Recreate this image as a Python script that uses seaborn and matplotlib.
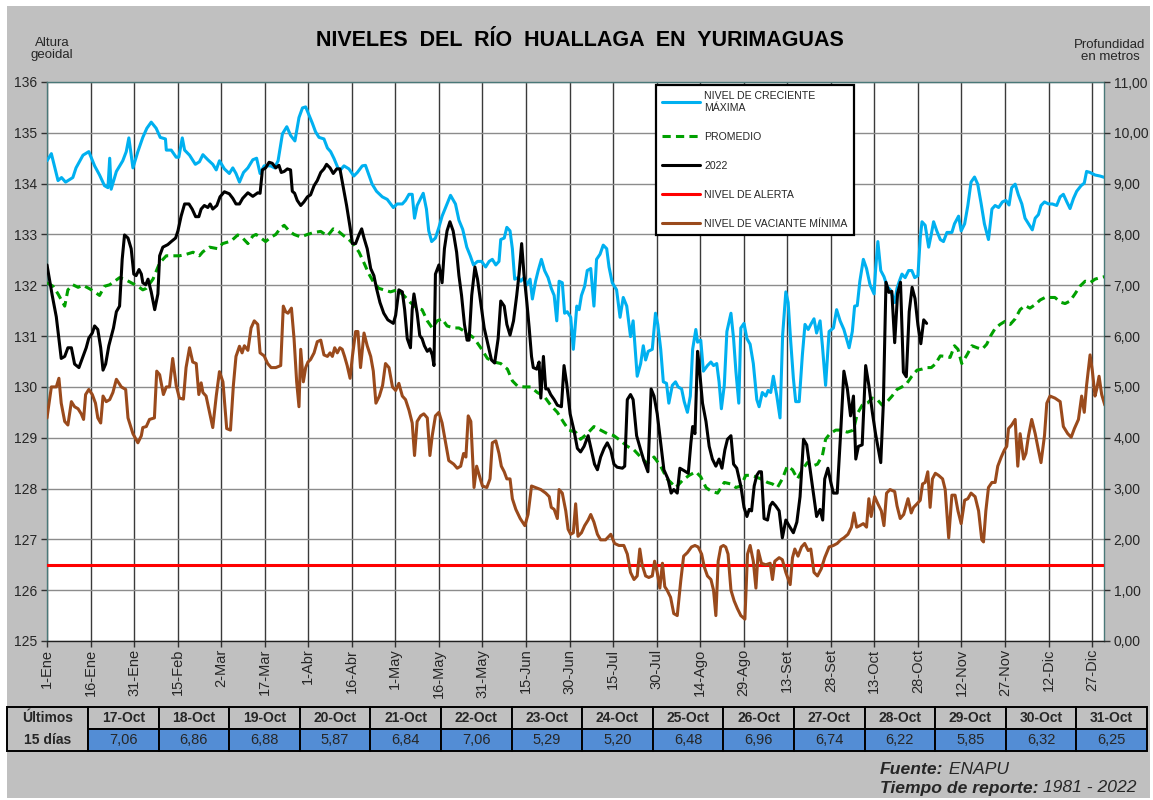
import numpy as np
import matplotlib
matplotlib.use("Agg")
import matplotlib.pyplot as plt
import seaborn as sns
from matplotlib.patches import Rectangle

# ---------------- DATA ----------------
TICK_LABELS = ["1-Ene", "16-Ene", "31-Ene", "15-Feb", "2-Mar", "17-Mar", "1-Abr", "16-Abr",
               "1-May", "16-May", "31-May", "15-Jun", "30-Jun", "15-Jul", "30-Jul", "14-Ago",
               "29-Ago", "13-Set", "28-Set", "13-Oct", "28-Oct", "12-Nov", "27-Nov", "12-Dic", "27-Dic"]

ALERTA = 126.5

MAX_DAYS = [0, 1.5, 3.8, 5, 6.4, 8.9, 10, 12.4, 14.4, 16.4,
            18.1, 19.8, 21, 21.6, 22.1, 23.9, 26.1, 27.3, 28.2, 29.6,
            31.3, 33, 34.4, 35.9, 37.6, 39, 40.8, 41.1, 42.8, 44.5,
            45.4, 46.6, 47.4, 49.1, 51.1, 52.5, 53.7, 55.4, 57.1, 58.3,
            59.4, 61.1, 62.8, 64, 65.1, 66.3, 67.7, 69.2, 70.9, 72.2,
            73.4, 74.8, 77, 78.4, 79.6, 81.1, 82.6, 83.9, 85.4, 86.8,
            88, 89.1, 90.3, 91.4, 92.5, 93.7, 95.4, 96.6, 97.7, 98.9,
            100.2, 101.1, 102.3, 104, 105.7, 106.9, 108.6, 109.7, 110.9, 112,
            113.5, 115.5, 117.2, 119.3, 120.6, 122.4, 123.5, 124.7, 125.8, 126.6,
            127.5, 128.7, 129.6, 130.7, 131.5, 132.5, 133.8, 135, 136.1, 137.8,
            139, 140.7, 141.9, 143.2, 144.6, 145.8, 146.9, 148.3, 149.7, 151.1,
            152.3, 153.4, 154.6, 155.7, 156.3, 157.5, 158.4, 159.5, 160.3, 161.1,
            162.3, 163.2, 164.3, 165.3, 166.4, 167.2, 168.3, 169.2, 170.3, 171.4,
            172.6, 173.7, 174.7, 175.6, 176.4, 177.5, 178.3, 179.2, 180.4, 181.3,
            182.5, 183.3, 184.1, 185.2, 186.1, 187.3, 188.4, 189.3, 190.5, 191.6,
            192.8, 193.6, 194.7, 196.2, 197.4, 198.5, 199.7, 201, 201.9, 203.3,
            204.5, 205.4, 206.2, 207.1, 208.5, 209.6, 210.4, 211.4, 212.3, 213.4,
            214.2, 215.4, 216.5, 217.4, 218.6, 219.5, 220.6, 221.6, 222.4, 223.5,
            224.1, 225.2, 226.1, 227.5, 228.7, 229.6, 230.7, 231.5, 232.3, 233.3,
            234.2, 235.6, 236.5, 237.3, 238.3, 239, 240.1, 241.1, 242.2, 243.3,
            244.5, 245.3, 246.4, 247.6, 248.4, 249.3, 250.2, 251.4, 252.5, 253.4,
            254.5, 255.3, 256.2, 257.1, 257.9, 259.1, 260.2, 261.1, 262.2, 263.1,
            264.2, 265.1, 266.3, 267.1, 268.2, 269.4, 270.9, 272, 273.2, 274.5,
            276.3, 277.4, 278.2, 279.1, 280, 281.2, 282.3, 283.5, 284.9, 285.4,
            286.2, 287.2, 288.3, 289.4, 290.6, 292, 292.8, 293.6, 294.5, 295.6,
            296.8, 297.9, 298.9, 300, 300.8, 301.4, 302.5, 303.7, 304.6, 305.4,
            306.5, 307.7, 308.8, 310, 311.7, 312.6, 314, 314.9, 316.1, 317.2,
            318.3, 319.5, 320.6, 321.8, 322.9, 324.3, 325.5, 326.6, 327.8, 329.1,
            330.3, 331.4, 332.3, 333.5, 334.6, 335.8, 336.9, 338.1, 339.4, 340.4,
            341.5, 342.4, 343.6, 345, 346.3, 347.8, 349, 350.1, 351.3, 352.4,
            353.6, 354.7, 356.2, 357.3, 358.1, 359.3, 361, 362.7, 364.4]
MAX_VALS = [134.45, 134.59, 134.06, 134.12, 134.03, 134.12, 134.31, 134.56, 134.63, 134.35,
            134.17, 133.96, 133.92, 134.50, 133.89, 134.24, 134.45, 134.63, 134.90, 134.31,
            134.63, 134.91, 135.09, 135.21, 135.09, 134.91, 134.88, 134.66, 134.66, 134.52,
            134.52, 134.90, 134.66, 134.56, 134.38, 134.43, 134.57, 134.47, 134.38, 134.27,
            134.45, 134.29, 134.20, 134.31, 134.20, 134.03, 134.22, 134.31, 134.47, 134.50,
            134.20, 134.35, 134.35, 134.31, 134.45, 134.98, 135.12, 134.95, 134.84, 135.30,
            135.49, 135.51, 135.34, 135.19, 135.02, 134.91, 134.88, 134.70, 134.63, 134.49,
            134.31, 134.27, 134.35, 134.29, 134.15, 134.22, 134.35, 134.36, 134.17, 133.99,
            133.85, 133.74, 133.69, 133.53, 133.60, 133.60, 133.67, 133.79, 133.79, 133.32,
            133.57, 133.71, 133.81, 133.50, 133.07, 132.86, 132.93, 133.14, 133.36, 133.60,
            133.77, 133.60, 133.28, 133.10, 132.75, 132.58, 132.40, 132.47, 132.47, 132.36,
            132.47, 132.51, 132.40, 132.47, 132.90, 132.93, 133.14, 133.07, 132.72, 132.12,
            132.15, 132.08, 132.15, 132.01, 132.12, 131.73, 132.08, 132.29, 132.51, 132.29,
            132.15, 131.94, 131.80, 131.30, 132.08, 132.05, 131.45, 131.48, 131.37, 130.74,
            131.59, 131.52, 131.80, 131.98, 132.29, 132.33, 131.59, 132.51, 132.61, 132.79,
            132.72, 132.36, 132.05, 131.91, 131.37, 131.76, 131.59, 130.99, 131.30, 130.21,
            130.46, 130.81, 130.53, 130.70, 130.74, 131.45, 131.23, 130.74, 130.10, 130.07,
            129.68, 130.03, 130.10, 130.00, 129.96, 129.71, 129.50, 129.82, 130.74, 131.13,
            130.88, 130.92, 130.31, 130.42, 130.49, 130.42, 130.46, 130.10, 129.57, 130.03,
            131.09, 131.45, 130.95, 130.31, 129.68, 131.16, 131.25, 130.95, 130.84, 130.46,
            129.75, 129.61, 129.89, 129.82, 129.93, 129.89, 130.21, 129.82, 129.39, 131.02,
            131.87, 131.66, 130.88, 130.17, 129.71, 129.71, 130.63, 131.23, 131.13, 131.23,
            131.34, 131.06, 131.30, 130.81, 130.03, 131.09, 131.16, 131.52, 131.30, 131.13,
            130.77, 131.09, 131.59, 131.60, 132.08, 132.51, 132.33, 132.01, 131.83, 132.29,
            132.86, 132.29, 132.17, 131.98, 131.90, 131.66, 131.94, 132.08, 132.22, 132.15,
            132.29, 132.29, 132.15, 132.19, 132.93, 133.25, 133.18, 132.75, 133.00, 133.25,
            133.07, 132.90, 132.86, 133.04, 133.04, 133.21, 133.36, 133.07, 133.21, 133.57,
            134.03, 134.13, 133.99, 133.60, 133.21, 132.90, 133.50, 133.57, 133.53, 133.64,
            133.67, 133.58, 133.92, 133.99, 133.78, 133.60, 133.32, 133.21, 133.09, 133.32,
            133.39, 133.57, 133.64, 133.60, 133.60, 133.57, 133.74, 133.79, 133.64, 133.51,
            133.71, 133.85, 133.96, 134.01, 134.24, 134.22, 134.17, 134.15, 134.12]

Y2022_DAYS = [0, 1.8, 3.2, 4.9, 6.1, 7.2, 8.4, 9.5, 11, 12.4,
              13.5, 14.4, 15.6, 16.4, 17.5, 18.5, 19.3, 20.2, 21.3, 22.9,
              23.9, 25, 25.9, 26.7, 27.9, 29, 29.9, 30.7, 31.7, 32.5,
              33, 34, 34.8, 35.9, 37.1, 38.2, 38.8, 39.9, 41.6, 42.8,
              44.3, 45.1, 46.2, 47.4, 48.9, 50, 51.2, 52.3, 53.1, 54.2,
              55.4, 56.2, 57.1, 58.5, 59.6, 61.1, 62.8, 64, 65.1, 66.3,
              67.4, 69.2, 70.9, 72.6, 73.4, 74.2, 75.3, 76.5, 77.6, 78.8,
              79.9, 80.7, 81.7, 82.8, 83.9, 84.5, 85.3, 86.2, 87.4, 88.5,
              89.7, 90.8, 92, 93.1, 94.3, 95.4, 96.3, 97.5, 98.6, 99.8,
              100.9, 102.1, 103.2, 104.4, 105.2, 106.3, 107.5, 108.4, 109.2, 110.3,
              111.5, 112.6, 113.5, 114.7, 116, 117.4, 119.3, 120.1, 121.2, 122.4,
              123.2, 124.1, 125.2, 125.8, 126.4, 127.5, 128.4, 129.2, 130, 131,
              131.9, 132.7, 133.3, 133.8, 135, 136.1, 136.9, 137.8, 138.8, 139.9,
              141.1, 141.9, 142.8, 143.8, 144.7, 145.4, 146.3, 147.4, 148.3, 149.4,
              150.6, 151.7, 153.1, 154.2, 155.4, 156.3, 157.5, 158.4, 159.5, 160.7,
              161.8, 162.6, 163.5, 164.3, 165.3, 166.1, 166.9, 167.5, 168.7, 169.5,
              170.1, 171, 171.8, 172.6, 173.5, 174.7, 175.8, 177.2, 178.1, 179,
              180.2, 181.5, 182.7, 183.8, 185, 186.4, 187.5, 188.6, 189.6, 190.7,
              191.9, 193, 194.2, 195.3, 196.4, 198.2, 199, 199.9, 201, 201.9,
              203.1, 204.5, 205.6, 207, 208.1, 209.1, 210.2, 211.4, 212.5, 213.9,
              215, 215.9, 217.1, 218, 219.5, 220.9, 221.8, 222.4, 223.2, 224.1,
              224.7, 225.8, 227, 228.1, 229.2, 230.4, 231.5, 232.5, 233.5, 234.4,
              235.6, 236.5, 237.6, 239, 240.1, 241.1, 241.9, 242.7, 243.6, 244.5,
              245.3, 246.1, 247, 248.2, 249.1, 249.9, 251, 252.2, 253.3, 254.5,
              255.6, 257.1, 258.3, 259.4, 260.6, 261.7, 262.8, 264, 265.1, 266.3,
              267.2, 267.9, 269, 270, 270.9, 272.2, 273.4, 274.5, 275.7, 276.8,
              277.8, 278.6, 279.5, 280.8, 282, 283.1, 284.3, 285.4, 286.2, 287.2,
              288.1, 289, 290, 291, 292, 293, 294, 295, 296, 297,
              298, 299, 300, 301, 302, 303]
Y2022_VALS = [132.40, 131.80, 131.38, 130.56, 130.60, 130.77, 130.77, 130.45, 130.38, 130.60,
              130.77, 130.96, 131.06, 131.20, 131.13, 130.77, 130.33, 130.45, 130.81, 131.16,
              131.48, 131.59, 132.51, 132.99, 132.93, 132.72, 132.22, 132.19, 132.31, 132.22,
              132.05, 132.01, 132.12, 131.87, 131.52, 131.83, 132.58, 132.75, 132.80, 132.86,
              132.93, 133.07, 133.36, 133.60, 133.60, 133.50, 133.35, 133.35, 133.50, 133.57,
              133.53, 133.60, 133.50, 133.57, 133.74, 133.84, 133.80, 133.71, 133.60, 133.60,
              133.71, 133.82, 133.75, 133.82, 133.81, 134.27, 134.31, 134.42, 134.40, 134.31,
              134.36, 134.22, 134.24, 134.29, 134.27, 133.85, 133.81, 133.67, 133.57, 133.64,
              133.74, 133.78, 133.96, 134.06, 134.22, 134.29, 134.38, 134.31, 134.20, 134.29,
              134.29, 133.92, 133.57, 133.14, 132.82, 132.82, 133.00, 133.11, 132.93, 132.72,
              132.33, 132.19, 131.94, 131.66, 131.45, 131.32, 131.25, 131.41, 131.91, 131.87,
              131.52, 130.95, 130.77, 131.52, 131.83, 131.45, 131.01, 130.95, 130.81, 130.70,
              130.75, 130.63, 130.42, 132.22, 132.40, 132.05, 132.72, 133.07, 133.25, 133.07,
              132.65, 132.19, 131.80, 131.23, 130.92, 130.92, 131.80, 132.36, 132.12, 131.66,
              131.16, 130.88, 130.53, 130.47, 130.95, 131.69, 131.59, 131.23, 131.02, 131.30,
              131.80, 132.22, 132.82, 132.22, 131.66, 131.16, 130.60, 130.38, 130.35, 130.49,
              129.78, 130.60, 129.96, 129.96, 129.85, 129.75, 129.64, 129.61, 130.42, 130.07,
              129.47, 129.15, 128.79, 128.72, 128.83, 129.04, 128.76, 128.48, 128.37, 128.62,
              128.79, 128.90, 128.76, 128.48, 128.42, 128.40, 128.44, 129.75, 129.85, 129.75,
              129.04, 128.76, 128.55, 128.33, 129.96, 129.82, 129.47, 128.90, 128.37, 128.19,
              127.91, 127.98, 127.91, 128.40, 128.35, 128.30, 128.90, 129.22, 129.08, 130.70,
              130.38, 129.68, 129.32, 128.83, 128.58, 128.44, 128.58, 128.40, 128.76, 128.97,
              129.04, 128.48, 128.40, 128.05, 127.63, 127.45, 127.59, 127.56, 128.05, 128.26,
              128.33, 128.33, 127.41, 127.38, 127.66, 127.73, 127.66, 127.56, 127.03, 127.38,
              127.27, 127.13, 127.34, 127.84, 128.97, 128.86, 128.40, 127.91, 127.45, 127.59,
              127.38, 128.19, 128.40, 128.12, 127.91, 127.91, 129.11, 130.31, 129.96, 129.43,
              129.82, 128.58, 128.83, 128.86, 130.42, 130.03, 129.50, 129.08, 128.83, 128.51,
              129.68, 132.06, 131.86, 131.88, 130.87, 131.84, 132.06, 130.29, 130.20, 131.48,
              131.96, 131.74, 131.22, 130.85, 131.32, 131.25]

AVG_DAYS = [0, 2.1, 3.8, 6.1, 7.2, 8.9, 10.7, 12.4, 14.7, 16.4,
            18.1, 19.8, 21.6, 23.3, 25, 26.7, 29, 31.3, 33, 34.2,
            36.5, 38.8, 41.1, 43.3, 45.6, 48, 50.3, 52.5, 53.7, 56,
            58.8, 60.5, 63.4, 65.7, 67.4, 69.2, 70.9, 72, 73.7, 75.3,
            77, 78.8, 80.5, 81.7, 83.4, 85.1, 87.4, 89.7, 92, 94.3,
            96.6, 98.6, 100.2, 102.3, 104, 105.7, 107.5, 109.2, 110.9, 112.6,
            114.3, 116, 118.3, 120.6, 122.9, 125.2, 127.5, 129.2, 131, 132.7,
            134.4, 136.1, 137.8, 140.1, 141.9, 144.8, 147.1, 149.4, 151.7, 154,
            156.3, 158.6, 160.3, 162, 164.3, 166.6, 168.9, 171.2, 173.5, 175.8,
            178.1, 179.8, 182.1, 183.8, 186.1, 188.4, 190.7, 193, 195.3, 197.6,
            199.9, 202.2, 204.5, 206.8, 209.1, 211.4, 213.6, 214.9, 216.6, 218.9,
            221.2, 223.5, 225.2, 227, 228.7, 231, 233.3, 235.6, 237.3, 239,
            240.7, 242.4, 244.2, 245.9, 248.2, 249.9, 251.6, 253.3, 255, 256.8,
            258.5, 260.2, 261.9, 263.6, 265.4, 267.1, 268.2, 269.7, 271.7, 273.4,
            275.7, 277.8, 279.1, 280.8, 282.6, 284.3, 286, 287.7, 289.4, 291.1,
            292.8, 294.5, 296.2, 297.9, 299.7, 301.4, 303.1, 304.6, 306, 307.7,
            309.4, 311.1, 312.6, 313.8, 315.1, 316.9, 318.6, 320.4, 322.1, 323.7,
            325.2, 326.6, 328.3, 330, 331.8, 333.5, 335.2, 336.9, 338.6, 340.4,
            342.1, 343.8, 345.5, 347.2, 349, 350.7, 352.4, 354.1, 355.8, 357.6,
            359.3, 361, 362.7, 364.4]
AVG_VALS = [132.05, 131.98, 131.83, 131.59, 131.91, 132.01, 131.96, 132.00, 131.93, 131.87,
            131.80, 131.98, 132.01, 132.08, 132.15, 132.12, 132.05, 131.98, 131.91, 131.94,
            132.12, 132.44, 132.58, 132.58, 132.58, 132.61, 132.65, 132.58, 132.66, 132.75,
            132.72, 132.82, 132.87, 132.99, 132.93, 132.82, 132.97, 133.00, 132.93, 132.86,
            132.94, 133.00, 133.13, 133.18, 133.07, 133.00, 132.95, 133.00, 133.04, 133.06,
            132.97, 133.11, 133.07, 132.97, 132.90, 132.80, 132.65, 132.44, 132.22, 132.05,
            131.94, 131.91, 131.87, 131.91, 131.80, 131.66, 131.55, 131.52, 131.30, 131.16,
            131.30, 131.34, 131.20, 131.16, 131.16, 131.06, 130.96, 130.77, 130.56, 130.49,
            130.46, 130.35, 130.12, 130.02, 130.00, 130.00, 129.89, 129.82, 129.64, 129.50,
            129.29, 129.15, 129.11, 128.97, 129.08, 129.22, 129.15, 129.08, 129.04, 128.94,
            128.83, 128.76, 128.62, 128.49, 128.62, 128.44, 128.19, 128.12, 128.02, 128.16,
            128.26, 128.33, 128.23, 128.02, 127.95, 127.91, 128.12, 128.09, 128.02, 128.05,
            128.26, 128.26, 128.23, 128.19, 128.12, 128.09, 128.02, 128.19, 128.44, 128.37,
            128.19, 128.37, 128.51, 128.44, 128.48, 128.65, 128.97, 129.08, 129.15, 129.15,
            129.11, 129.15, 129.47, 129.64, 129.68, 129.78, 129.75, 129.64, 129.71, 129.82,
            129.95, 130.00, 130.07, 130.21, 130.33, 130.35, 130.38, 130.38, 130.45, 130.61,
            130.60, 130.58, 130.81, 130.74, 130.46, 130.63, 130.81, 130.77, 130.74, 130.84,
            131.02, 131.15, 131.23, 131.29, 131.23, 131.34, 131.52, 131.60, 131.55, 131.62,
            131.71, 131.76, 131.76, 131.76, 131.67, 131.64, 131.69, 131.83, 131.98, 132.08,
            132.05, 132.12, 132.15, 132.17]

MIN_DAYS = [0, 1.5, 3.2, 4.1, 4.9, 6.1, 7.2, 8.4, 9.5, 10.7,
            11.8, 12.6, 13.3, 14.4, 15.6, 16.7, 17.5, 18.5, 19.3, 20.4,
            21.6, 22.7, 23.9, 25.6, 27.1, 27.9, 29.6, 31.3, 32.5, 33,
            34.2, 35.3, 37, 37.8, 38.8, 40.1, 41.1, 42.2, 43.3, 44.5,
            45.6, 47, 47.9, 49.1, 50.2, 51.4, 52.3, 53.1, 53.7, 54.8,
            56, 57.1, 58.3, 59.4, 60.6, 61.9, 63.2, 64.2, 65.1, 66.3,
            67.2, 68, 69.2, 70.3, 71.4, 72.6, 73.4, 74.8, 76, 77.2,
            78.8, 80.5, 81.4, 82.2, 83, 84.2, 85.1, 86, 86.8, 87.4,
            88.3, 89.1, 89.9, 90.8, 92, 93.1, 94.3, 95.4, 96.6, 97.5,
            98.3, 99.1, 100, 100.9, 101.7, 102.5, 103.4, 104.4, 105.2, 106.3,
            107.1, 108, 109.2, 110.3, 111.5, 112.4, 113.3, 114.5, 115.6, 116.6,
            117.8, 119, 120.1, 121.2, 122.4, 123.5, 124.7, 125.8, 126.6, 127.5,
            128.7, 129.8, 131, 131.9, 132.7, 133.8, 135, 136.1, 137.3, 138.4,
            140.1, 141.3, 142.5, 143.5, 144.3, 145.1, 146, 147.1, 148, 148.9,
            150, 151.5, 152.6, 153.4, 154.6, 155.7, 156.5, 157.5, 158.4, 159.5,
            160.3, 161.5, 163, 164.6, 165.7, 166.9, 168.3, 170.1, 171.8, 173,
            173.7, 174.7, 175.8, 176.4, 177.5, 178.7, 179.5, 180.4, 181.3, 182.1,
            182.9, 184.1, 185.2, 186.4, 187.3, 188.4, 189.6, 190.7, 192.4, 194.2,
            195.5, 197, 198.7, 199.9, 201, 202.2, 203.3, 204.2, 205, 206.2,
            207.3, 208.5, 209.3, 210.2, 211.1, 212, 212.8, 213.6, 214.8, 215.9,
            217.1, 218.3, 219.3, 220.6, 222, 223.2, 224.3, 225.5, 226.4, 227.5,
            228.7, 229.6, 230.4, 231.2, 232.1, 233, 233.8, 234.6, 235.6, 236.7,
            237.8, 239, 240.4, 241.3, 242.2, 243.3, 244.2, 245, 246.1, 247.6,
            249.1, 249.9, 250.7, 252.2, 253.3, 254.5, 256, 256.8, 257.6, 258.7,
            259.9, 261, 262.2, 263.1, 264.2, 265.4, 266.7, 267.9, 269.4, 270.9,
            272.2, 273.4, 274.5, 275.9, 277.1, 278, 278.9, 280, 281.2, 282.3,
            283.1, 283.9, 285.1, 286.2, 287.4, 288.3, 289.2, 290.4, 292, 292.8,
            293.9, 295.1, 296.6, 297.7, 298.5, 299.7, 300.8, 301.6, 302.5, 303.4,
            304.2, 305, 306, 307.1, 308.5, 309.4, 310.6, 311.7, 312.8, 313.8,
            314.9, 316.1, 317.2, 318.3, 319.7, 320.9, 322, 322.6, 323.4, 324.3,
            325.5, 326.6, 327.5, 328.7, 329.8, 330.6, 331.2, 332.3, 333.5, 334.4,
            335.2, 336.4, 337.2, 338.1, 339.2, 340.4, 341.5, 342.4, 343.6, 344.4,
            345.5, 347.2, 349, 350.1, 351.6, 352.8, 353.9, 355.3, 356.4, 357.3,
            358.1, 359.3, 360.1, 361, 361.6, 362.4, 363.3, 364.4]
MIN_VALS = [129.39, 130.00, 130.00, 130.17, 129.68, 129.32, 129.25, 129.71, 129.61, 129.57,
            129.47, 129.36, 129.85, 129.95, 129.85, 129.68, 129.39, 129.29, 129.82, 129.71,
            129.75, 129.89, 130.15, 130.00, 129.95, 129.39, 129.08, 128.90, 129.04, 129.20,
            129.22, 129.36, 129.39, 130.31, 130.24, 129.85, 130.00, 130.00, 130.56, 130.03,
            129.78, 129.76, 130.38, 130.77, 130.49, 130.46, 129.85, 130.08, 129.89, 129.82,
            129.50, 129.20, 129.82, 130.30, 130.10, 129.18, 129.15, 130.03, 130.60, 130.80,
            130.67, 130.81, 130.72, 131.16, 131.30, 131.23, 130.67, 130.61, 130.46, 130.38,
            130.38, 130.42, 131.59, 131.48, 131.45, 131.55, 130.95, 130.10, 129.61, 130.74,
            130.10, 130.38, 130.49, 130.54, 130.67, 130.89, 130.92, 130.63, 130.60, 130.67,
            130.60, 130.77, 130.67, 130.77, 130.74, 130.60, 130.42, 130.17, 130.60, 131.09,
            131.09, 130.38, 131.06, 130.81, 130.60, 130.31, 129.68, 129.82, 130.03, 130.46,
            130.38, 130.00, 129.93, 130.07, 129.82, 129.75, 129.54, 129.29, 128.65, 129.32,
            129.43, 129.47, 129.39, 128.65, 129.04, 129.43, 129.50, 129.29, 128.90, 128.55,
            128.48, 128.40, 128.44, 128.69, 128.62, 129.43, 129.32, 128.02, 128.44, 128.26,
            128.05, 128.02, 128.19, 128.90, 128.94, 128.69, 128.44, 128.33, 128.19, 128.19,
            127.80, 127.59, 127.41, 127.27, 127.49, 128.05, 128.02, 127.98, 127.91, 127.84,
            127.63, 127.59, 127.41, 127.98, 127.91, 127.56, 127.20, 127.10, 127.13, 127.70,
            127.06, 127.13, 127.27, 127.38, 127.49, 127.34, 127.10, 126.99, 126.99, 127.10,
            126.92, 126.88, 126.88, 126.71, 126.35, 126.21, 126.28, 126.81, 126.50, 126.28,
            126.25, 126.28, 126.57, 126.35, 126.04, 126.53, 126.07, 126.00, 125.86, 125.54,
            125.50, 126.18, 126.67, 126.74, 126.85, 126.88, 126.85, 126.71, 126.46, 126.28,
            126.21, 126.00, 125.50, 126.57, 126.85, 126.88, 126.85, 126.71, 126.00, 125.79,
            125.64, 125.50, 125.43, 126.71, 126.88, 126.57, 126.04, 126.78, 126.53, 126.50,
            126.53, 126.21, 126.57, 126.64, 126.60, 126.35, 126.11, 126.64, 126.81, 126.67,
            126.85, 126.92, 126.78, 126.81, 126.35, 126.28, 126.42, 126.64, 126.85, 126.88,
            126.92, 126.99, 127.03, 127.10, 127.24, 127.52, 127.24, 127.27, 127.31, 127.24,
            127.80, 127.45, 127.84, 127.70, 127.56, 127.27, 127.91, 127.98, 127.94, 127.66,
            127.41, 127.49, 127.80, 127.52, 127.63, 127.70, 127.77, 128.09, 128.12, 128.33,
            127.63, 128.19, 128.30, 128.26, 128.19, 127.98, 127.03, 127.87, 127.87, 127.56,
            127.31, 127.77, 127.80, 127.91, 127.84, 127.56, 126.99, 126.95, 127.56, 128.02,
            128.12, 128.12, 128.44, 128.62, 128.76, 128.83, 129.18, 129.25, 129.36, 128.44,
            129.08, 128.58, 128.69, 129.04, 129.36, 129.08, 128.76, 128.51, 129.04, 129.68,
            129.82, 129.78, 129.71, 129.22, 129.08, 129.01, 129.18, 129.36, 129.82, 129.50,
            130.03, 130.63, 130.31, 129.82, 129.96, 130.21, 129.85, 129.64]

TABLE_DATES = ["17-Oct", "18-Oct", "19-Oct", "20-Oct", "21-Oct", "22-Oct", "23-Oct", "24-Oct",
               "25-Oct", "26-Oct", "27-Oct", "28-Oct", "29-Oct", "30-Oct", "31-Oct"]
TABLE_VALUES = [7.06, 6.86, 6.88, 5.87, 6.84, 7.06, 5.29, 5.20, 6.48, 6.96, 6.74, 6.22, 5.85, 6.32, 6.25]

LABELS = ["NIVEL DE CRECIENTE\nMÁXIMA", "PROMEDIO", "2022", "NIVEL DE ALERTA", "NIVEL DE VACIANTE MÍNIMA"]

# ---------------- STYLE ----------------
sns.set_theme(style="white")
plt.rcParams['font.family'] = ['Liberation Sans', 'DejaVu Sans']

C_MAX, C_AVG, C_2022, C_ALERT, C_MIN = "#00B0F0", "#00A000", "#000000", "#FF0000", "#9A4A1C"
GRAY = "#C0C0C0"
W, H = 1153, 800

fig = plt.figure(figsize=(W / 100, H / 100), dpi=100)
fig.patch.set_facecolor("white")

bg = fig.add_axes([0, 0, 1, 1], zorder=0)
bg.set_xlim(0, W)
bg.set_ylim(H, 0)
bg.axis("off")
bg.add_patch(Rectangle((7, 6), 1143, 792, facecolor=GRAY, edgecolor="none"))

# main axes
L, R, T, B = 47, 1104, 82, 641
ax = fig.add_axes([L / W, (H - B) / H, (R - L) / W, (B - T) / H], zorder=2)
ax.set_facecolor("white")

sns.lineplot(x=MAX_DAYS, y=MAX_VALS, ax=ax, color=C_MAX, lw=2.2, sort=False,
             estimator=None, label=LABELS[0], zorder=3)
h_max = ax.lines[-1]
sns.lineplot(x=AVG_DAYS, y=AVG_VALS, ax=ax, color=C_AVG, lw=2.2, sort=False,
             estimator=None, label=LABELS[1], zorder=4, linestyle=(0, (2.7, 1.7)))
h_avg = ax.lines[-1]
h_alert = ax.axhline(ALERTA, color=C_ALERT, lw=2.2, zorder=4, label=LABELS[3])
sns.lineplot(x=MIN_DAYS, y=MIN_VALS, ax=ax, color=C_MIN, lw=2.2, sort=False,
             estimator=None, label=LABELS[4], zorder=5)
h_min = ax.lines[-1]
sns.lineplot(x=Y2022_DAYS, y=Y2022_VALS, ax=ax, color=C_2022, lw=2.2, sort=False,
             estimator=None, label=LABELS[2], zorder=6)
h_2022 = ax.lines[-1]

ax.set_xlim(0, 364.1)
ax.set_ylim(125, 136)
ax.set_xticks(np.arange(0, 361, 15))
ax.set_xticklabels(TICK_LABELS, rotation=90)
ax.set_yticks(np.arange(125, 137, 1))
ax.set_xlabel("")
ax.set_ylabel("")
ax.grid(axis="y", color="#8C8C8C", lw=1.0, zorder=0)
ax.grid(axis="x", color="#3A3A3A", lw=1.0, zorder=0)
ax.set_axisbelow(True)
ax.tick_params(axis="x", direction="out", length=4, width=1, color="#303030",
               labelsize=10.5, pad=1.5, bottom=True)
ax.tick_params(axis="y", direction="out", length=4, width=1, color="#303030",
               labelsize=10, pad=3, left=True)
for side, sp in ax.spines.items():
    sp.set_visible(True)
    sp.set_linewidth(1.0)
    sp.set_color("#4A7878")
ax.spines["bottom"].set_color("#202020")

ax2 = ax.twinx()
ax2.set_ylim(0, 11)
ax2.set_yticks(np.arange(0, 12, 1))
ax2.set_yticklabels([f"{v:.2f}".replace(".", ",") for v in np.arange(0, 12, 1)])
ax2.tick_params(axis="y", direction="out", length=4, width=1, color="#303030",
                labelsize=10, pad=3, right=True)
ax2.grid(False)
for sp in ax2.spines.values():
    sp.set_visible(False)

leg = ax.legend(handles=[h_max, h_avg, h_2022, h_alert, h_min], labels=LABELS,
                loc="upper left", bbox_to_anchor=(0.576, 0.995), frameon=True,
                fancybox=False, framealpha=1, edgecolor="black", facecolor="white",
                fontsize=7.6, handlelength=3.6, handletextpad=0.4, labelspacing=1.8,
                borderpad=0.6, borderaxespad=0)
leg.get_frame().set_linewidth(1.6)
leg.set_zorder(10)

# ---------------- TEXTS ----------------
bg.text(580, 40, "NIVELES  DEL  RÍO  HUALLAGA  EN  YURIMAGUAS", ha="center", va="center",
        fontsize=15.5, fontweight="bold", color="black")
bg.text(52, 49, "Altura\ngeoidal", ha="center", va="center", fontsize=9.5, linespacing=1.0)
bg.text(1110, 51, "Profundidad\nen metros", ha="center", va="center", fontsize=9.5, linespacing=0.9)

# ---------------- TABLE ----------------
ty0, ty1, ty2 = 707, 729, 751
cx0, cx1, cx_end = 7, 88, 1147
cw = (cx_end - cx1) / len(TABLE_DATES)
bg.add_patch(Rectangle((cx0, ty0), cx1 - cx0, ty2 - ty0, facecolor=GRAY, edgecolor="black", lw=1.4))
bg.text((cx0 + cx1) / 2, (ty0 + ty1) / 2, "Últimos", ha="center", va="center", fontsize=10, fontweight="bold")
bg.text((cx0 + cx1) / 2, (ty1 + ty2) / 2, "15 días", ha="center", va="center", fontsize=10, fontweight="bold")
for i, (d, v) in enumerate(zip(TABLE_DATES, TABLE_VALUES)):
    x = cx1 + i * cw
    bg.add_patch(Rectangle((x, ty0), cw, ty1 - ty0, facecolor=GRAY, edgecolor="black", lw=1.4))
    bg.add_patch(Rectangle((x, ty1), cw, ty2 - ty1, facecolor="#538DD5", edgecolor="black", lw=1.4))
    bg.text(x + cw / 2, (ty0 + ty1) / 2, d, ha="center", va="center", fontsize=10, fontweight="bold")
    bg.text(x + cw / 2, (ty1 + ty2) / 2, f"{v:.2f}".replace(".", ","), ha="center", va="center", fontsize=10.5)

# ---------------- FOOTER ----------------
t1 = bg.text(880, 770, "Fuente:", ha="left", va="center", fontsize=12.6, fontweight="bold", style="italic")
bg.annotate(" ENAPU", xy=(1, 0.5), xycoords=t1, ha="left", va="center", fontsize=12.6, style="italic")
t2 = bg.text(880, 788, "Tiempo de reporte:", ha="left", va="center", fontsize=12.6, fontweight="bold", style="italic")
bg.annotate(" 1981 - 2022", xy=(1, 0.5), xycoords=t2, ha="left", va="center", fontsize=12.6, style="italic")

fig.savefig("out.png", dpi=100, facecolor=fig.get_facecolor())
